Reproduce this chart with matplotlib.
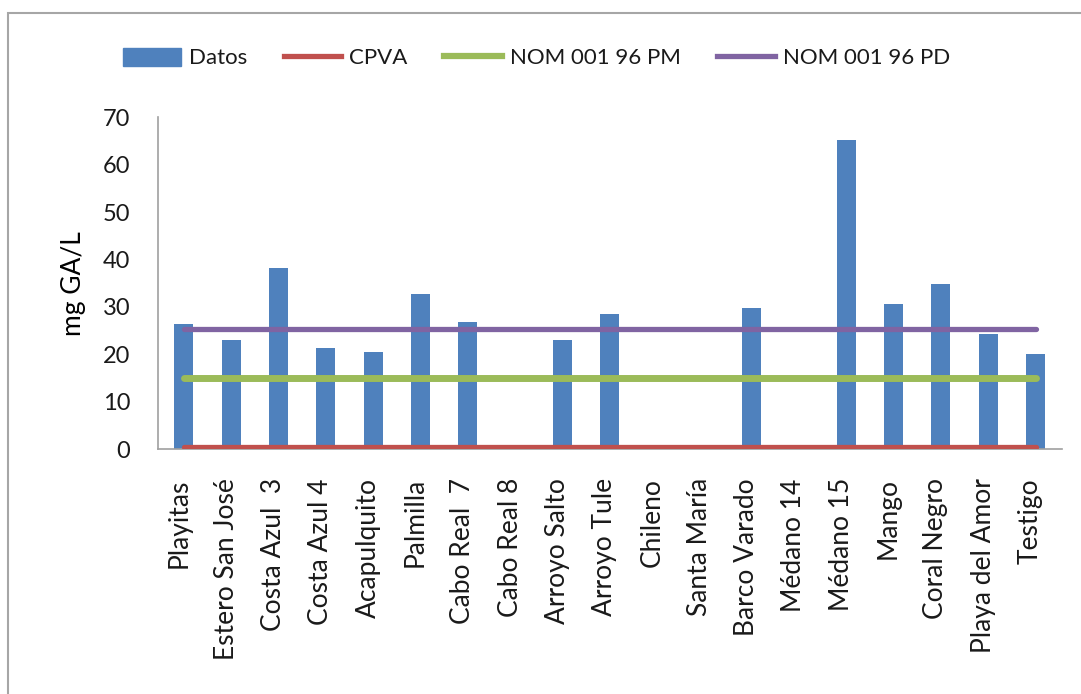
import matplotlib.pyplot as plt
import matplotlib.transforms as mtransforms
import numpy as np
from matplotlib.patches import Rectangle
from matplotlib.lines import Line2D

plt.rcParams['font.family'] = ['Lato', 'DejaVu Sans']
plt.rcParams['text.color'] = '#1a1a1a'
plt.rcParams['ytick.color'] = '#1a1a1a'
plt.rcParams['xtick.color'] = '#1a1a1a'

sitios = ['Playitas', 'Estero San José', 'Costa Azul  3', 'Costa Azul 4', 'Acapulquito',
          'Palmilla', 'Cabo Real  7', 'Cabo Real 8', 'Arroyo Salto', 'Arroyo Tule',
          'Chileno', 'Santa María', 'Barco Varado', 'Médano 14', 'Médano 15',
          'Mango', 'Coral Negro', 'Playa del Amor', 'Testigo']
datos = [26.4, 23.0, 38.2, 21.3, 20.5, 32.7, 26.8, 0, 23.0, 28.5,
         0, 0, 29.7, 0, 65.2, 30.6, 34.8, 24.3, 20.0]
cpva = [0.5] * len(sitios)
nom_pm = [15] * len(sitios)
nom_pd = [25.3] * len(sitios)

x = np.arange(len(sitios))

fig = plt.figure(figsize=(10.81, 6.94), dpi=100)
ax = fig.add_axes([0.146, 0.353, 0.836, 0.478])

# outer chart frame
fig.patches.append(Rectangle((8 / 1081, -0.05), 1.1, 1 - 13 / 694 + 0.05,
                             transform=fig.transFigure, fill=False,
                             edgecolor='#a6a6a6', linewidth=1.5))

ax.bar(x, datos, width=0.4, color='#4F81BD', zorder=2)
ax.plot(x, cpva, color='#C0504D', linewidth=3.8, solid_capstyle='round', zorder=3)
ax.plot(x, nom_pm, color='#9BBB59', linewidth=5, solid_capstyle='round', zorder=3)
ax.plot(x, nom_pd, color='#8064A2', linewidth=3.8, solid_capstyle='round', zorder=3)

ax.set_xlim(-0.55, len(sitios) - 0.45)
ax.set_ylim(0, 70)
ax.set_yticks(range(0, 71, 10))
ax.set_xticks(x)
ax.set_xticklabels(sitios, rotation=90, fontsize=19)
ax.tick_params(axis='x', length=0, pad=21)
ax.tick_params(axis='y', length=0, pad=20, labelsize=17)
ax.set_ylabel('mg GA/L', fontsize=19, labelpad=12)

# nudge category labels a little to the left of the bars
shift = mtransforms.ScaledTranslation(-5 / 100, 0, fig.dpi_scale_trans)
for lbl in ax.get_xticklabels():
    lbl.set_transform(lbl.get_transform() + shift)

for side in ['top', 'right']:
    ax.spines[side].set_visible(False)
for side in ['left', 'bottom']:
    ax.spines[side].set_color('#a0a0a0')
    ax.spines[side].set_linewidth(1.2)

handles = [Rectangle((0, 0), 1, 1, color='#4F81BD'),
           Line2D([], [], color='#C0504D', linewidth=3.8),
           Line2D([], [], color='#9BBB59', linewidth=4.5),
           Line2D([], [], color='#8064A2', linewidth=3.8)]
labels = ['Datos', 'CPVA', 'NOM 001 96 PM', 'NOM 001 96 PD']
fig.legend(handles, labels, loc='center left', bbox_to_anchor=(112 / 1081, 1 - 58 / 694),
           ncol=4, frameon=False, fontsize=16, handlelength=2.6, handleheight=0.9,
           handletextpad=0.35, columnspacing=1.65, borderpad=0)

fig.savefig('out.png', dpi=100)
